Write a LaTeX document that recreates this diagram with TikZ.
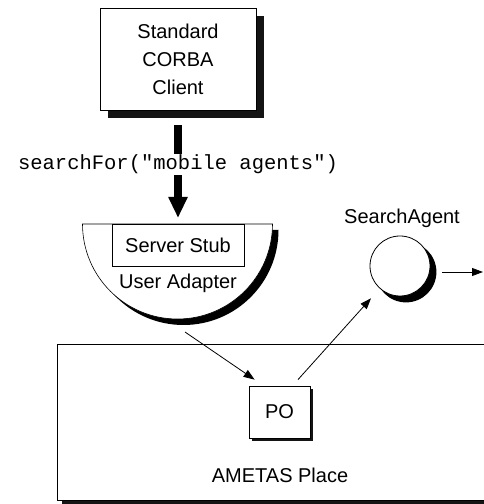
\documentclass[tikz,border=0pt]{standalone}
\usepackage{fontspec}
\setmainfont{Liberation Sans}
\setmonofont{Liberation Mono}
\usetikzlibrary{arrows.meta}
\definecolor{shadowgray}{gray}{0.08}

\begin{document}
\begin{tikzpicture}[x=1pt,y=1pt,
  font=\fontsize{20}{28}\selectfont,
  box/.style={draw,fill=white,line width=0.8pt,inner sep=0pt,align=center},
  shadowbox/.style={fill=shadowgray,inner sep=0pt},
  clientsize/.style={minimum width=156pt,minimum height=102pt},
  placesize/.style={minimum width=438pt,minimum height=156pt},
  posize/.style={minimum width=61pt,minimum height=52pt},
  thin arrow/.style={line width=0.8pt,-{Triangle[length=11pt,width=8pt]}}]
	\useasboundingbox (0,0) rectangle (483,504);

	% client
	\node[shadowbox,clientsize] (clientsh) at (186,437) {};
	\node[box,clientsize] (client) at (178,445) {Standard\\CORBA\\Client};

	% user adapter
	\fill[black] (88.5,274) arc[start angle=180,end angle=360,radius=95] -- cycle;
	\filldraw[fill=white,line width=0.6pt] (82.5,280) arc[start angle=180,end angle=360,radius=95] -- cycle;
	\node[box,minimum width=132pt,minimum height=42pt] (stub) at (178,259) {Server Stub};
	\node (ua) at (178,221) {User Adapter};
	\coordinate (uatop) at (178,286);
	\coordinate (uaout) at (185,172);

	% call
	\draw[line width=8pt,-{Triangle[length=21pt,width=18pt]},shorten <=15pt] (client) -- node[fill=white,inner sep=1pt,font=\ttfamily\fontsize{20.5}{24}\selectfont] (call) {searchFor("mobile agents")} (uatop);

	% search agent
	\fill (406,232) circle (30.4);
	\node[box,circle,minimum size=60pt] (agent) at (400,238) {};
	\node (agentlbl) at (402,286) {SearchAgent};
	\coordinate (away) at (483,232);
	\draw[thin arrow,shorten <=12pt] (agent.east |- away) -- (away);

	% place
	\node[shadowbox,placesize] (placesh) at (281,78) {};
	\node[box,placesize] (place) at (276,82) {};
	\node (placelbl) at (280,29) {AMETAS Place};
	\node[shadowbox,posize] (posh) at (282.5,89) {};
	\node[box,posize] (po) at (279.5,92) {PO};

	\draw[thin arrow] (uaout) -- ([shift={(6,6)}]po.north west);
	\draw[thin arrow,shorten >=13pt] ([shift={(18.5,6)}]po.north) -- (agent);
\end{tikzpicture}
\end{document}
